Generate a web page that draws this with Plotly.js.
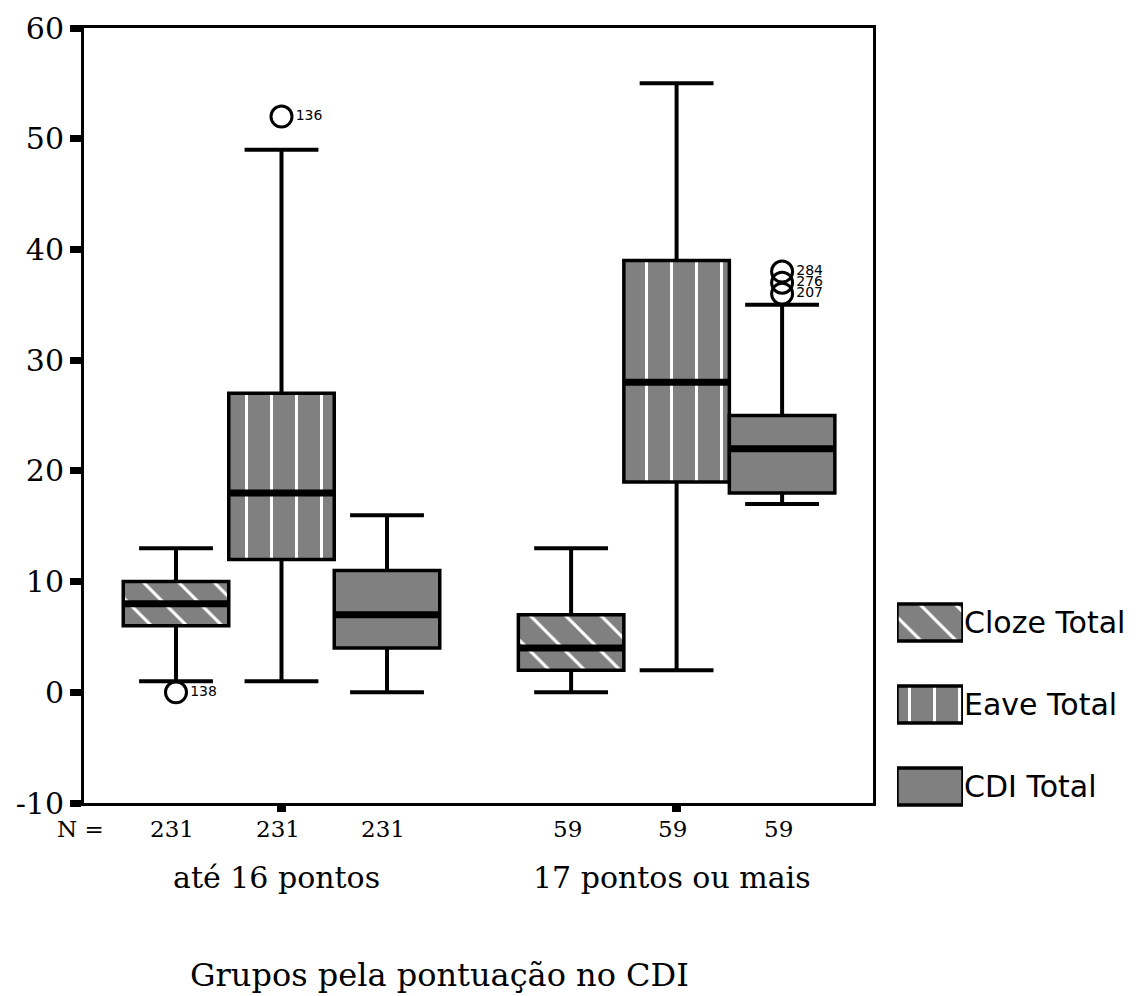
<!DOCTYPE html>
<html>
<head>
<meta charset="utf-8">
<script src="https://cdn.plot.ly/plotly-3.0.1.min.js"></script>
<style>html,body{margin:0;padding:0;background:#fff;}#chart{width:1139px;height:996px;}</style>
</head>
<body>
<div id="chart"></div>
<script>
// ---- data ----
const groups = ['até 16 pontos', '17 pontos ou mais'];
const seriesNames = ['Cloze Total', 'Eave Total', 'CDI Total'];
const nCounts = [231, 59];
const yTickVals = [-10, 0, 10, 20, 30, 40, 50, 60];
const yTickText = ['-10', '0', '10', '20', '30', '40', '50', '60'];

const clozeLow = [1, 0];
const clozeQ1 = [6, 2];
const clozeMed = [8, 4];
const clozeQ3 = [10, 7];
const clozeHigh = [13, 13];

const eaveLow = [1, 2];
const eaveQ1 = [12, 19];
const eaveMed = [18, 28];
const eaveQ3 = [27, 39];
const eaveHigh = [49, 55];

const cdiLow = [0, 17];
const cdiQ1 = [4, 18];
const cdiMed = [7, 22];
const cdiQ3 = [11, 25];
const cdiHigh = [16, 35];

const clozeOutGroup = [0];
const clozeOutVal = [0];
const clozeOutId = ['138'];
const eaveOutGroup = [0];
const eaveOutVal = [52];
const eaveOutId = ['136'];
const cdiOutGroup = [1, 1, 1];
const cdiOutVal = [36, 37, 38];
const cdiOutId = ['207', '276', '284'];

// ---- build ----
const groupStep = 3.745;
function pos(g, s) { return 1 + g * groupStep + s; }
const capHalf = 0.35;

const seriesData = [
  {low: clozeLow, q1: clozeQ1, med: clozeMed, q3: clozeQ3, high: clozeHigh, og: clozeOutGroup, ov: clozeOutVal, oid: clozeOutId, shape: '\\'},
  {low: eaveLow, q1: eaveQ1, med: eaveMed, q3: eaveQ3, high: eaveHigh, og: eaveOutGroup, ov: eaveOutVal, oid: eaveOutId, shape: '|'},
  {low: cdiLow, q1: cdiQ1, med: cdiMed, q3: cdiQ3, high: cdiHigh, og: cdiOutGroup, ov: cdiOutVal, oid: cdiOutId, shape: ''}
];

const GRAY = '#808080';
const SERIF = 'DejaVu Serif';
const SANS = 'DejaVu Sans';
function patternFor(shape) {
  return {shape: shape, fgcolor: '#ffffff', bgcolor: GRAY, size: 25, solidity: 0.12, fillmode: 'replace'};
}

const traces = [];
seriesData.forEach((d, s) => {
  const xs = groups.map((_, g) => pos(g, s));
  traces.push({
    type: 'bar', x: xs, y: d.q3.map((v, i) => v - d.q1[i]), base: d.q1, width: 1,
    name: seriesNames[s], showlegend: false, hoverinfo: 'skip',
    marker: {color: GRAY, line: {color: '#000', width: 3.5}, pattern: patternFor(d.shape)}
  });
});
seriesData.forEach((d, s) => {
  const wx = [], wy = [];
  groups.forEach((_, g) => {
    const x = pos(g, s);
    wx.push(x, x, null, x, x, null, x - capHalf, x + capHalf, null, x - capHalf, x + capHalf, null);
    wy.push(d.q3[g], d.high[g], null, d.q1[g], d.low[g], null, d.high[g], d.high[g], null, d.low[g], d.low[g], null);
  });
  traces.push({type: 'scatter', mode: 'lines', x: wx, y: wy, line: {color: '#000', width: 4}, showlegend: false, hoverinfo: 'skip'});
  const mx = [], my = [];
  groups.forEach((_, g) => {
    const x = pos(g, s);
    mx.push(x - 0.5, x + 0.5, null);
    my.push(d.med[g], d.med[g], null);
  });
  traces.push({type: 'scatter', mode: 'lines', x: mx, y: my, line: {color: '#000', width: 7}, showlegend: false, hoverinfo: 'skip'});
  traces.push({
    type: 'scatter', mode: 'markers+text', x: d.og.map(g => pos(g, s)), y: d.ov, text: d.oid,
    textposition: 'middle right', textfont: {family: SANS, size: 14, color: '#000'},
    marker: {symbol: 'circle-open', size: 21, color: '#000', line: {width: 3, color: '#000'}},
    showlegend: false, hoverinfo: 'skip', cliponaxis: false
  });
});
// legend swatches
traces.push({
  type: 'bar', orientation: 'h', xaxis: 'x2', yaxis: 'y2',
  y: seriesNames, x: seriesNames.map(() => 1), width: 0.45, showlegend: false, hoverinfo: 'skip',
  marker: {color: GRAY, line: {color: '#000', width: 3.5},
    pattern: {shape: seriesData.map(d => d.shape), fgcolor: '#ffffff', bgcolor: GRAY, size: 25, solidity: 0.12, fillmode: 'replace'}}
});

const W = 1139, H = 996;
const annotations = [];
annotations.push({xref: 'paper', yref: 'paper', x: 80 / W, y: 1 - 829 / H, text: 'N =', showarrow: false,
  font: {family: SERIF, size: 23, color: '#000'}, xanchor: 'center', yanchor: 'middle'});
groups.forEach((gname, g) => {
  seriesNames.forEach((_, s) => {
    annotations.push({xref: 'x', yref: 'paper', x: pos(g, s), y: 1 - 829 / H, text: String(nCounts[g]), showarrow: false,
      xshift: -4, font: {family: SERIF, size: 23, color: '#000'}, xanchor: 'center', yanchor: 'middle'});
  });
  annotations.push({xref: 'x', yref: 'paper', x: pos(g, 1), y: 1 - 877 / H, text: gname, showarrow: false,
    xshift: -5, font: {family: SERIF, size: 30, color: '#000'}, xanchor: 'center', yanchor: 'middle'});
});
annotations.push({xref: 'paper', yref: 'paper', x: 439 / W, y: 1 - 975 / H, text: 'Grupos pela pontuação no CDI', showarrow: false,
  font: {family: SERIF, size: 32, color: '#000'}, xanchor: 'center', yanchor: 'middle'});

const xLeft = 1 + (84 - 176) / 105.5;
const xRight = 1 + (873 - 176) / 105.5;

const layout = {
  width: W, height: H,
  margin: {l: 0, r: 0, t: 0, b: 0},
  paper_bgcolor: '#fff', plot_bgcolor: '#fff',
  barmode: 'overlay',
  xaxis: {domain: [84 / W, 873 / W], range: [xLeft, xRight], showgrid: false, zeroline: false,
    showline: true, mirror: true, linecolor: '#000', linewidth: 3,
    tickmode: 'array', tickvals: [pos(0, 1), pos(1, 1)], ticktext: ['', ''],
    ticks: 'outside', ticklen: 6, tickwidth: 9, tickcolor: '#000', automargin: false, fixedrange: true},
  yaxis: {domain: [1 - 803 / H, 1 - 28 / H], range: [-10, 60], tickmode: 'array', tickvals: yTickVals, ticktext: yTickText,
    showgrid: false, zeroline: false,
    showline: true, mirror: true, linecolor: '#000', linewidth: 3,
    ticks: 'outside', ticklen: 11, tickwidth: 7, tickcolor: '#000', ticklabelstandoff: 0,
    tickfont: {family: SERIF, size: 30, color: '#000'}, automargin: false, fixedrange: true},
  xaxis2: {domain: [897 / W, 963 / W], range: [0, 1], visible: false, anchor: 'y2', fixedrange: true},
  yaxis2: {domain: [1 - 827.5 / H, 1 - 581.5 / H], range: [2.5, -0.5], anchor: 'x2', side: 'right',
    type: 'category', showgrid: false, zeroline: false, showline: false, ticks: '',
    tickfont: {family: SANS, size: 30, color: '#000'}, automargin: false, fixedrange: true},
  annotations: annotations
};

Plotly.newPlot('chart', traces, layout, {displayModeBar: false, staticPlot: true});
</script>
</body>
</html>
